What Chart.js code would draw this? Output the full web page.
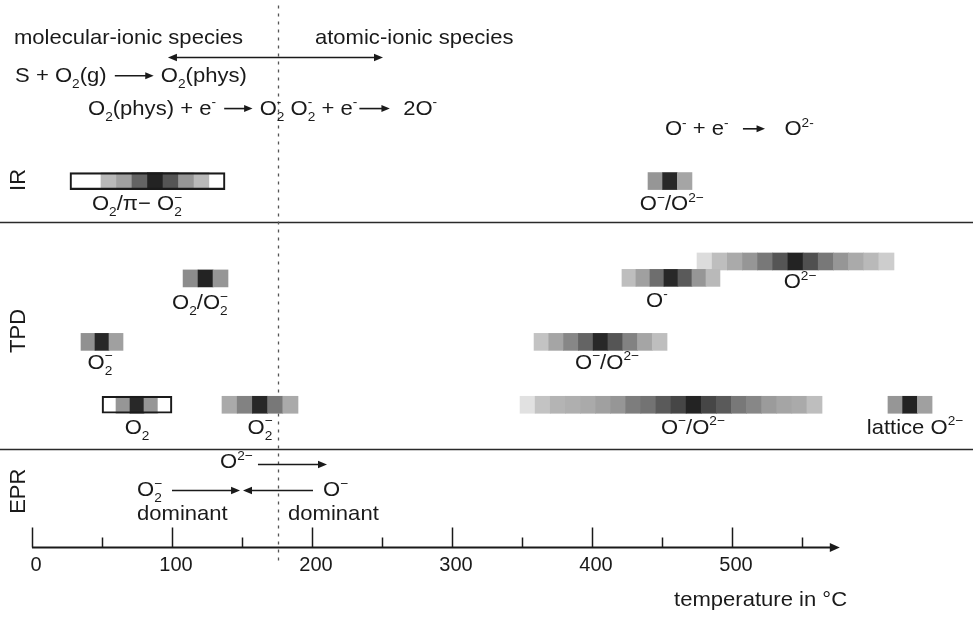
<!DOCTYPE html>
<html>
<head>
<meta charset="utf-8">
<script src="https://cdn.jsdelivr.net/npm/chart.js@4.4.1/dist/chart.umd.min.js"></script>
<style>
  html, body { margin: 0; padding: 0; background: #fff; }
  #wrap { width: 973px; height: 617px; }
</style>
</head>
<body>
<div id="wrap"><canvas id="plot"></canvas></div>
<script>
// temperature axis (°C)
const tickValues = [0, 50, 100, 150, 200, 250, 300, 350, 400, 450, 500, 550];
const tickLabelled = [0, 100, 200, 300, 400, 500];
const axisEnd = 577;
const regimeBoundary = 176;

// lanes run from 0 (top) to 100 (temperature axis)
const sectionLines = [40.6, 82.1];
const sectionNames = ['IR', 'TPD', 'EPR'];
const sectionLanes = [32.9, 60.5, 89.8];

// grey bands: temperature range, lane, cell grey levels (0 = black, 255 = white)
const bandFrom = [27.1, 440, 107.9, 35, 421.4, 475, 358.6, 50, 135.7, 348.6, 611.4];
const bandTo = [137.9, 471.4, 140, 65, 491.4, 615.7, 453.6, 100, 190, 564.3, 642.9];
const bandLane = [33.1, 33.1, 50.9, 62.5, 50.8, 47.8, 62.5, 74, 74, 74, 74];
const bandOutlined = [true, false, false, false, false, false, false, true, false, false, false];
const bandShades = [
  [255, 255, 185, 160, 100, 35, 85, 150, 185, 255],
  [150, 40, 165],
  [140, 35, 150],
  [145, 40, 160],
  [190, 160, 110, 40, 90, 150, 185],
  [220, 190, 170, 150, 120, 85, 35, 80, 120, 150, 170, 185, 205],
  [195, 165, 135, 100, 40, 85, 130, 165, 190],
  [255, 150, 40, 150, 255],
  [170, 130, 40, 120, 170],
  [225, 195, 180, 175, 170, 160, 150, 125, 115, 90, 70, 35, 70, 90, 120, 135, 155, 165, 170, 190],
  [150, 35, 160]
];

// arrows: from, to, lane, heads
const arrowFrom = [97.1, 161.4, 100, 200.7];
const arrowTo = [250.7, 210.7, 148.6, 150.7];
const arrowLane = [10.5, 84.8, 89.6, 89.6];
const arrowBoth = [true, false, false, false];

// text: _{..} subscript, ^{..} superscript, ~n~ reaction arrow of n px
const labelText = [
  'molecular-ionic species',
  'atomic-ionic species',
  'S + O_{2}(g) ~40~ O_{2}(phys)',
  'O_{2}(phys) + e^{-} ~30~ O_{2}^{-} O_{2}^{-} + e^{-}~32~  2O^{-}',
  'O^{-} + e^{-}  ~24~   O^{2-}',
  'O_{2}/π− O_{2}^{−}',
  'O^{−}/O^{2−}',
  'O_{2}/O_{2}^{−}',
  'O_{2}^{−}',
  'O^{-}',
  'O^{2−}',
  'O^{−}/O^{2−}',
  'O_{2}',
  'O_{2}^{−}',
  'O^{−}/O^{2−}',
  'lattice O^{2−}',
  'O^{2−}',
  'O_{2}^{−}',
  'O^{−}',
  'dominant',
  'dominant',
  'temperature in °C'
];
const labelX = [-12.9, 202.1, -12.1, 40, 452.1, 75, 457, 120, 48.6, 446.4, 548.6, 410.7, 75, 162.9, 472.1, 630.7,
  134.3, 75, 207.9, 75, 182.9, 458.6];
const labelLane = [8.0, 8.0, 15.0, 21.0, 24.7, 38.4, 38.4, 56.5, 67.4, 56.1, 52.7, 67.4, 79.3, 79.3, 79.3, 79.3,
  85.6, 90.7, 90.7, 95.1, 95.1, 110.8];
const labelAlign = ['left', 'left', 'left', 'left', 'left', 'center', 'center', 'center', 'center', 'center',
  'center', 'center', 'center', 'center', 'center', 'center', 'left', 'left', 'left', 'left', 'left', 'left'];

const FONT = '"Liberation Sans", Arial, sans-serif';
const INK = '#1a1a1a';
const TEXT_SIZE = 21;
const STRETCH = 1.05;

function grey(v) { return 'rgb(' + v + ',' + v + ',' + v + ')'; }

function tokenize(str) {
  const re = /_\{([^}]*)\}|\^\{([^}]*)\}|~(\d+)~|([^_^~]+)/g;
  const out = [];
  let m;
  while ((m = re.exec(str))) {
    if (m[1] !== undefined) out.push({ k: 'sub', t: m[1] });
    else if (m[2] !== undefined) out.push({ k: 'sup', t: m[2] });
    else if (m[3] !== undefined) out.push({ k: 'arrow', w: +m[3] });
    else out.push({ k: 'n', t: m[4] });
  }
  return out;
}

function layoutRich(ctx, str, size) {
  let x = 0, prev = null;
  const items = [];
  tokenize(str).forEach(tk => {
    if (tk.k === 'arrow') {
      items.push({ k: 'arrow', x: x, w: tk.w });
      x += tk.w;
      prev = null;
      return;
    }
    const fs = tk.k === 'n' ? size : size * 0.62;
    ctx.font = fs + 'px ' + FONT;
    const w = ctx.measureText(tk.t).width;
    let x0 = x;
    if (tk.k === 'sup' && prev && prev.k === 'sub') {
      x0 = prev.x;
      x = Math.max(prev.x + prev.w, x0 + w);
    } else {
      x = x0 + w;
    }
    const dy = tk.k === 'sub' ? size * 0.3 : tk.k === 'sup' ? -size * 0.4 : 0;
    const it = { k: tk.k, t: tk.t, x: x0, w: w, fs: fs, dy: dy };
    items.push(it);
    prev = it;
  });
  return { items: items, width: x };
}

function arrowHead(ctx, x, y, dir, len, half) {
  ctx.beginPath();
  ctx.moveTo(x, y);
  ctx.lineTo(x - dir * len, y - half);
  ctx.lineTo(x - dir * len, y + half);
  ctx.closePath();
  ctx.fill();
}

function drawRich(ctx, str, px, py, align, size) {
  const lay = layoutRich(ctx, str, size);
  const start = align === 'center' ? px - lay.width * STRETCH / 2 : px;
  ctx.save();
  ctx.translate(start, py);
  ctx.scale(STRETCH, 1);
  ctx.fillStyle = INK;
  ctx.strokeStyle = INK;
  ctx.textBaseline = 'alphabetic';
  ctx.textAlign = 'left';
  lay.items.forEach(it => {
    if (it.k === 'arrow') {
      const ay = -size * 0.3;
      ctx.lineWidth = 1.6;
      ctx.beginPath();
      ctx.moveTo(it.x + 2, ay);
      ctx.lineTo(it.x + it.w - 6, ay);
      ctx.stroke();
      arrowHead(ctx, it.x + it.w - 1, ay, 1, 8, 3.5);
      return;
    }
    ctx.font = it.fs + 'px ' + FONT;
    ctx.fillText(it.t, it.x, it.dy);
  });
  ctx.restore();
}

const datasets = [];
bandShades.forEach((shades, b) => {
  const step = (bandTo[b] - bandFrom[b]) / shades.length;
  datasets.push({
    data: shades.map((s, i) => ({ x: [bandFrom[b] + i * step, bandFrom[b] + (i + 1) * step], y: bandLane[b] })),
    backgroundColor: shades.map(grey),
    borderWidth: 0,
    stack: 'lane'
  });
  if (bandOutlined[b]) {
    datasets.push({
      data: [{ x: [bandFrom[b], bandTo[b]], y: bandLane[b] }],
      backgroundColor: 'rgba(0,0,0,0)',
      borderColor: INK,
      borderWidth: 1.5,
      borderSkipped: false,
      stack: 'lane',
      order: -1
    });
  }
});

const diagram = {
  id: 'diagram',
  beforeDatasetsDraw(chart) {
    const { ctx, chartArea, scales: { x, y } } = chart;
    ctx.save();
    ctx.strokeStyle = '#2a2a2a';
    ctx.lineWidth = 1.6;
    sectionLines.forEach(l => {
      const py = Math.round(y.getPixelForValue(l)) + 0.5;
      ctx.beginPath();
      ctx.moveTo(chartArea.left, py);
      ctx.lineTo(chartArea.right, py);
      ctx.stroke();
    });
    const bx = Math.round(x.getPixelForValue(regimeBoundary)) + 0.5;
    ctx.strokeStyle = '#555';
    ctx.lineWidth = 1.3;
    ctx.setLineDash([3, 5]);
    ctx.beginPath();
    ctx.moveTo(bx, y.getPixelForValue(1));
    ctx.lineTo(bx, y.getPixelForValue(103));
    ctx.stroke();
    ctx.restore();
  },
  afterDraw(chart) {
    const { ctx, scales: { x, y } } = chart;
    ctx.save();
    ctx.fillStyle = INK;
    ctx.strokeStyle = INK;

    // temperature axis with arrow and upward ticks
    const ay = Math.round(y.getPixelForValue(100)) + 0.5;
    ctx.lineWidth = 1.8;
    ctx.beginPath();
    ctx.moveTo(x.getPixelForValue(0), ay);
    ctx.lineTo(x.getPixelForValue(axisEnd) - 6, ay);
    ctx.stroke();
    arrowHead(ctx, x.getPixelForValue(axisEnd), ay, 1, 10, 4.5);
    ctx.lineWidth = 1.5;
    tickValues.forEach(v => {
      const tx = Math.round(x.getPixelForValue(v)) + 0.5;
      const len = v % 100 === 0 ? 20 : 10;
      ctx.beginPath();
      ctx.moveTo(tx, ay);
      ctx.lineTo(tx, ay - len);
      ctx.stroke();
    });

    // arrows
    ctx.lineWidth = 1.5;
    arrowFrom.forEach((f, i) => {
      const x0 = x.getPixelForValue(f), x1 = x.getPixelForValue(arrowTo[i]);
      const py = Math.round(y.getPixelForValue(arrowLane[i])) + 0.5;
      const dir = x1 > x0 ? 1 : -1;
      ctx.beginPath();
      ctx.moveTo(arrowBoth[i] ? x0 + dir * 5 : x0, py);
      ctx.lineTo(x1 - dir * 5, py);
      ctx.stroke();
      arrowHead(ctx, x1, py, dir, 9, 3.8);
      if (arrowBoth[i]) arrowHead(ctx, x0, py, -dir, 9, 3.8);
    });

    // section names, rotated
    ctx.font = '22px ' + FONT;
    ctx.textAlign = 'center';
    ctx.textBaseline = 'middle';
    sectionNames.forEach((n, i) => {
      ctx.save();
      ctx.translate(x.getPixelForValue(-9.3), y.getPixelForValue(sectionLanes[i]));
      ctx.rotate(-Math.PI / 2);
      ctx.fillText(n, 0, 0);
      ctx.restore();
    });
    ctx.restore();

    labelText.forEach((t, i) => {
      drawRich(ctx, t, x.getPixelForValue(labelX[i]), y.getPixelForValue(labelLane[i]), labelAlign[i], TEXT_SIZE);
    });
  }
};

new Chart(document.getElementById('plot'), {
  type: 'bar',
  data: { datasets: datasets },
  options: {
    indexAxis: 'y',
    responsive: true,
    maintainAspectRatio: false,
    animation: false,
    barThickness: 17,
    layout: { padding: { left: 0, right: 0, top: 0, bottom: 34 } },
    plugins: { legend: { display: false }, tooltip: { enabled: false } },
    scales: {
      x: {
        type: 'linear',
        min: -22.86,
        max: 672.14,
        stacked: false,
        grid: { display: false, drawTicks: false },
        border: { display: false },
        afterBuildTicks: s => { s.ticks = tickValues.map(v => ({ value: v })); },
        ticks: {
          callback: v => tickLabelled.includes(v) ? String(v) : '',
          font: { family: FONT, size: 20 },
          color: INK,
          padding: 6,
          labelOffset: 4,
          maxRotation: 0,
          autoSkip: false
        }
      },
      y: {
        type: 'linear', min: 0, max: 100, reverse: true, display: false,
        offset: false, grid: { offset: false }
      }
    }
  },
  plugins: [diagram]
});
</script>
</body>
</html>
